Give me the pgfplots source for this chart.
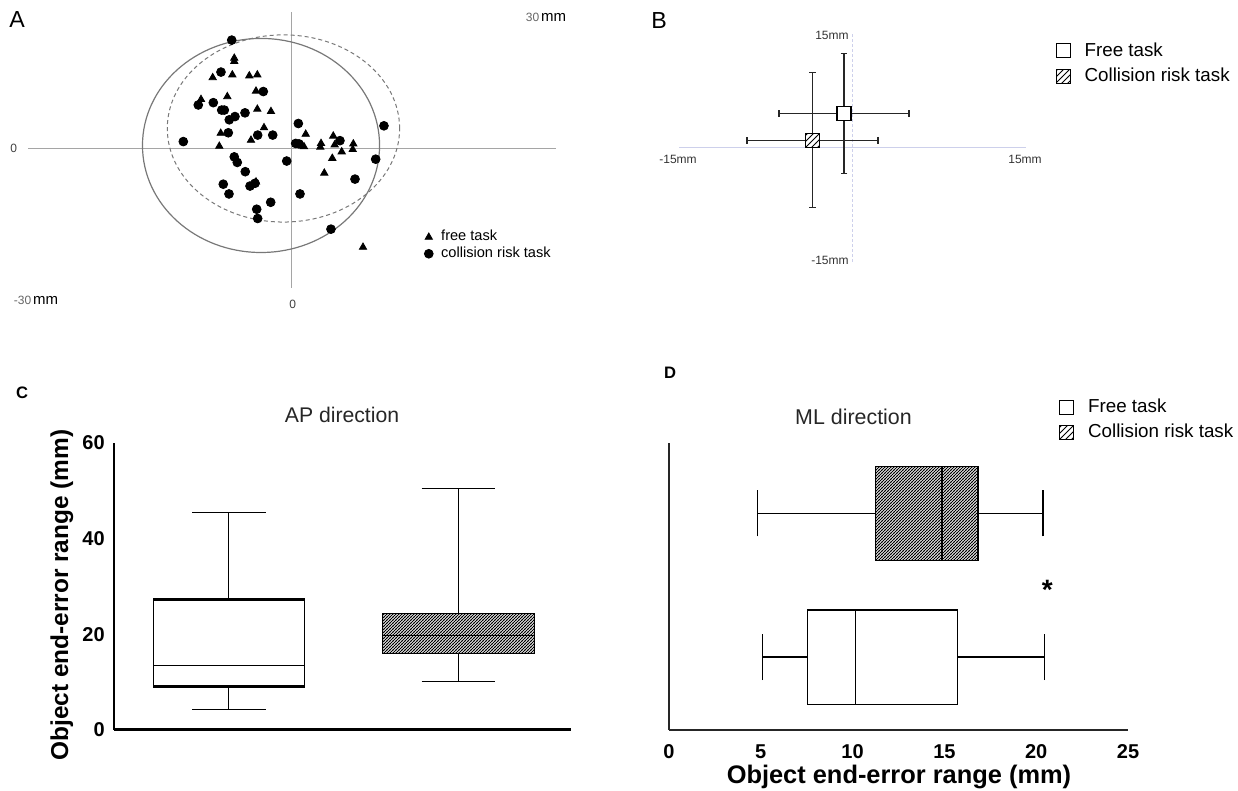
\documentclass[border=0pt]{standalone}
\usepackage{fontspec}
\setmainfont{Liberation Sans}
\usepackage{pgfplots}
\usepackage{pgfplotstable}
\pgfplotsset{compat=1.18}
\usepgfplotslibrary{statistics}
\usetikzlibrary{patterns}

\definecolor{axgray}{RGB}{165,165,165}
\definecolor{ellgray}{RGB}{120,120,120}
\definecolor{lav}{RGB}{205,208,235}

% dense hatch used in the box plots
\pgfdeclarepatternformonly{densehatch}{\pgfqpoint{-0.5pt}{-0.5pt}}{\pgfqpoint{2pt}{2pt}}{\pgfqpoint{1.5pt}{1.5pt}}{%
  \pgfsetlinewidth{0.45pt}%
  \pgfpathmoveto{\pgfqpoint{-0.2pt}{-0.2pt}}%
  \pgfpathlineto{\pgfqpoint{1.7pt}{1.7pt}}%
  \pgfusepath{stroke}%
}

% panel A, end points in mm
\pgfplotstableread{
x y
-6.56 19.6
-6.56 18.9
-9.01 15.4
-6.78 16.0
-4.85 15.8
-3.94 16.0
-4.09 12.5
-10.34 10.7
-7.35 11.3
-3.94 8.6
-2.39 8.1
-3.18 4.6
-8.10 3.4
-4.66 1.9
-8.26 0.6
1.56 3.2
1.36 0.5
3.30 1.2
3.22 0.4
4.69 2.8
4.85 0.9
5.65 -0.6
6.97 1.1
6.90 -0.1
4.58 -2.0
3.67 -5.2
-4.09 -7.1
8.07 -21.2
}\freetask

\pgfplotstableread{
x y
-6.85 23.5
-8.07 16.6
-3.26 12.4
-10.65 9.5
-8.94 10.0
-7.99 8.4
-7.69 8.4
-5.34 7.8
-6.48 7.0
-7.13 6.3
-7.24 3.5
-3.90 3.0
-2.19 3.0
-12.35 1.6
0.72 5.5
0.42 1.2
0.80 1.1
5.45 1.8
10.45 5.0
9.51 -2.2
-0.60 -2.6
-6.56 -1.7
-6.22 -2.9
-5.31 -4.9
-7.81 -7.6
-7.16 -9.7
-4.77 -8.0
-4.20 -7.4
0.91 -9.7
7.16 -6.5
-2.42 -11.5
-4.01 -13.0
-3.90 -15.0
4.43 -17.3
}\collisiontask

\begin{document}
\begin{tikzpicture}
\useasboundingbox (0pt,0pt) rectangle (619pt,395.5pt);

% ---------- A ----------
\begin{axis}[at={(14pt,251.5pt)}, anchor=south west, scale only axis,
  width=264pt, height=139pt,
  xmin=-30, xmax=30, ymin=-30, ymax=30,
  hide axis, clip=false,
  legend style={at={(0.75,0.223)}, anchor=north west, draw=none, fill=none,
    font=\fontsize{7.3}{8}\selectfont, inner sep=0pt, row sep=-2.5pt,
    /tikz/every odd column/.append style={column sep=2pt}},
  legend cell align=left,
  legend image code/.code={\draw[mark repeat=2,mark phase=2,#1] plot coordinates {(0pt,0pt) (3pt,0pt) (6pt,0pt)};},
]
\draw[axgray, line width=0.5pt] (axis cs:-30,0) -- (axis cs:30,0);
\draw[axgray, line width=0.5pt] (axis cs:0,29.5) -- (axis cs:0,-30);
\draw[ellgray, line width=0.6pt] (axis cs:-3.52,0.76) ellipse [x radius=13.47, y radius=23.1];
\draw[ellgray, line width=0.5pt, dash pattern=on 2pt off 1.5pt] (axis cs:-0.97,4.43) ellipse [x radius=13.2, y radius=20.2];
\addplot[only marks, mark=triangle*, mark size=2.1pt, black] table {\freetask};
\addlegendentry{free task}
\addplot[only marks, mark=*, mark size=2.2pt, black] table {\collisiontask};
\addlegendentry{collision risk task}
\end{axis}

% ---------- B ----------
\begin{axis}[at={(339.5pt,264.5pt)}, anchor=south west, scale only axis,
  width=173.5pt, height=114.5pt,
  xmin=-15, xmax=15, ymin=-15, ymax=15,
  hide axis, clip=false,
  legend style={at={(1.084,0.978)}, anchor=north west, draw=none, fill=none,
    font=\fontsize{9.4}{11}\selectfont, inner sep=0pt, row sep=0.5pt,
    /tikz/every odd column/.append style={column sep=5pt}},
  legend cell align=left,
]
\draw[lav, line width=0.6pt] (axis cs:-15,0) -- (axis cs:15,0);
\draw[lav, line width=0.6pt, dash pattern=on 1.5pt off 1pt] (axis cs:0,-15) -- (axis cs:0,15);
\addlegendimage{legend image code/.code={\draw[black, line width=0.5pt, fill=white] (0pt,-3.5pt) rectangle (7pt,3.5pt);}}
\addlegendentry{Free task}
\addlegendimage{legend image code/.code={\draw[black, line width=0.5pt, pattern=north east lines] (0pt,-3.5pt) rectangle (7pt,3.5pt);}}
\addlegendentry{Collision risk task}
\addplot[black!85, line width=0.7pt, only marks, mark=square*, mark size=3.5pt,
  mark options={fill=white, draw=black, line width=0.6pt},
  error bars/.cd, x dir=both, y dir=both, x explicit, y explicit,
  error bar style={line width=0.7pt, black!85},
  error mark options={rotate=90, mark size=1.7pt, line width=0.7pt, black!85}]
  coordinates {(-0.73,4.46) +- (5.62,7.86)};
\addplot[black!85, line width=0.7pt, only marks, mark=square*, mark size=3.5pt,
  mark options={fill=white, draw=black, line width=0.6pt},
  error bars/.cd, x dir=both, y dir=both, x explicit, y explicit,
  error bar style={line width=0.7pt, black!85},
  error mark options={rotate=90, mark size=1.7pt, line width=0.7pt, black!85}]
  coordinates {(-3.46,0.95) +- (5.66,8.85)};
\addplot[only marks, mark=square*, mark size=3.5pt,
  mark options={draw=black, line width=0.6pt, pattern=north east lines}]
  coordinates {(-3.46,0.95)};
\end{axis}

% ---------- C ----------
\begin{axis}[at={(57pt,30.5pt)}, anchor=south west, scale only axis,
  width=228.5pt, height=143.5pt,
  xmin=0.5, xmax=2.49, ymin=0, ymax=60,
  axis x line=bottom, axis y line=left, axis line style={-},
  x axis line style={line width=1.5pt}, y axis line style={line width=0.6pt},
  xtick=\empty, ytick={0,20,40,60}, tick style={draw=none},
  /pgf/number format/assume math mode=true,
  yticklabel style={font=\bfseries\fontsize{10}{11}\selectfont, xshift=1pt},
  ylabel={Object end-error range (mm)},
  ylabel style={at={(axis description cs:-0.114,0.47)}, anchor=center,
    font=\bfseries\fontsize{12.2}{13}\selectfont},
  title={AP direction},
  title style={at={(axis description cs:0.499,1.055)}, anchor=center,
    font=\fontsize{10.6}{12}\selectfont, black!85},
  boxplot/draw direction=y, boxplot/box extend=0.66, boxplot/whisker extend=0.32,
  clip=false,
]
\addplot[black, line width=0.5pt, fill=white,
  boxplot prepared={lower whisker=4.2, lower quartile=9.1, median=13.5,
    upper quartile=27.2, upper whisker=45.5, draw position=1},
  boxplot/draw/box/.code={%
    \draw[black, line width=0.5pt, fill=white]
      (boxplot box cs:\pgfplotsboxplotvalue{lower quartile},0) rectangle
      (boxplot box cs:\pgfplotsboxplotvalue{upper quartile},1);
    \draw[black, line width=1.6pt]
      (boxplot box cs:\pgfplotsboxplotvalue{lower quartile},0) --
      (boxplot box cs:\pgfplotsboxplotvalue{lower quartile},1);
    \draw[black, line width=1.6pt]
      (boxplot box cs:\pgfplotsboxplotvalue{upper quartile},0) --
      (boxplot box cs:\pgfplotsboxplotvalue{upper quartile},1);
  }] coordinates {};
\addplot[black, line width=0.5pt,
  boxplot/every box/.style={pattern=densehatch},
  boxplot prepared={lower whisker=10.1, lower quartile=15.9, median=19.7,
    upper quartile=24.4, upper whisker=50.5, draw position=2}] coordinates {};
\end{axis}

% ---------- D ----------
\begin{axis}[at={(334.5pt,30.5pt)}, anchor=south west, scale only axis,
  width=229.5pt, height=143.3pt,
  xmin=0, xmax=25, ymin=0.493, ymax=2.486,
  axis x line=bottom, axis y line=left,
  axis line style={-, line width=0.7pt, black!85},
  ytick=\empty, xtick={0,5,10,15,20,25}, tick style={draw=none},
  /pgf/number format/assume math mode=true,
  xticklabel style={font=\bfseries\fontsize{10}{11}\selectfont, yshift=-1.5pt},
  xlabel={Object end-error range (mm)},
  xlabel style={at={(axis description cs:0.501,-0.163)}, anchor=center,
    font=\bfseries\fontsize{12.7}{14}\selectfont},
  title={ML direction},
  title style={at={(axis description cs:0.402,1.051)}, anchor=center,
    font=\fontsize{10.7}{12}\selectfont, black!85},
  boxplot/draw direction=x, boxplot/box extend=0.654, boxplot/whisker extend=0.32,
  legend style={at={(0.849,1.17)}, anchor=north west, draw=none, fill=none,
    font=\fontsize{9.4}{11}\selectfont, inner sep=0pt, row sep=0pt,
    /tikz/every odd column/.append style={column sep=5pt}},
  legend cell align=left,
  clip=false,
]
\addlegendimage{legend image code/.code={\draw[black, line width=0.5pt, fill=white] (0pt,-3.5pt) rectangle (7pt,3.5pt);}}
\addlegendentry{Free task}
\addlegendimage{legend image code/.code={\draw[black, line width=0.5pt, pattern=north east lines] (0pt,-3.5pt) rectangle (7pt,3.5pt);}}
\addlegendentry{Collision risk task}
\addplot[black, line width=0.6pt, fill=white,
  boxplot prepared={lower whisker=5.11, lower quartile=7.56, median=10.16,
    upper quartile=15.73, upper whisker=20.46, draw position=1}] coordinates {};
\addplot[black, line width=0.6pt,
  boxplot/every box/.style={pattern=densehatch},
  boxplot/every median/.style={line width=0.9pt},
  boxplot prepared={lower whisker=4.84, lower quartile=11.24, median=14.89,
    upper quartile=16.83, upper whisker=20.37, draw position=2}] coordinates {};
\node[font=\bfseries\fontsize{14}{14}\selectfont] at (axis cs:20.6,1.47) {*};
\end{axis}

% ---------- panel letters and axis notes ----------
\node[font=\fontsize{11.6}{12}\selectfont] at (8.5pt,385.5pt) {A};
\node[font=\fontsize{11.6}{12}\selectfont] at (329.5pt,385.2pt) {B};
\node[font=\bfseries\fontsize{8.3}{9}\selectfont] at (11pt,199pt) {C};
\node[font=\bfseries\fontsize{8.3}{9}\selectfont] at (335pt,209pt) {D};

\node[font=\fontsize{6}{7}\selectfont, black!75] at (6.8pt,321.5pt) {0};
\node[font=\fontsize{6}{7}\selectfont, black!75] at (146.3pt,243.5pt) {0};
\node at (273pt,386.8pt) {{\fontsize{6}{7}\selectfont\color{black!60}30\,}{\fontsize{7.5}{8}\selectfont mm}};
\node at (18pt,245.5pt) {{\fontsize{6}{7}\selectfont\color{black!60}-30\,}{\fontsize{7.5}{8}\selectfont mm}};

\node[font=\fontsize{6}{7}\selectfont, black!80, anchor=east, inner sep=0pt] at (424.5pt,377.6pt) {15mm};
\node[font=\fontsize{6}{7}\selectfont, black!80, anchor=east, inner sep=0pt] at (424.5pt,265.5pt) {-15mm};
\node[font=\fontsize{6}{7}\selectfont, black!80] at (339pt,316pt) {-15mm};
\node[font=\fontsize{6}{7}\selectfont, black!80] at (512.5pt,316pt) {15mm};
\end{tikzpicture}
\end{document}
